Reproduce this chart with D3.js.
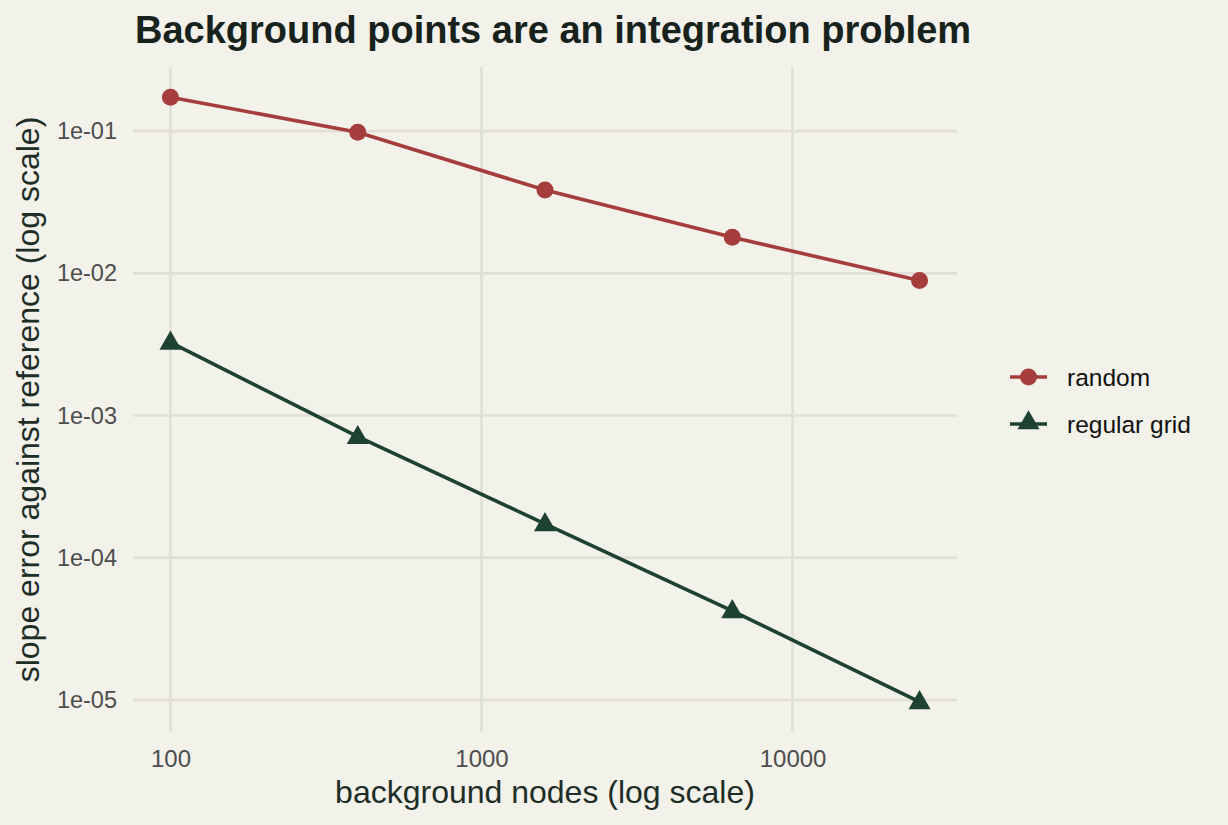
<!DOCTYPE html>
<html><head><meta charset="utf-8">
<script src="https://cdn.jsdelivr.net/npm/d3@7"></script>
<style>
body{margin:0;background:#F2F1EA;}
text{font-family:"Liberation Sans",Arial,Helvetica,sans-serif;}
</style></head>
<body>
<svg id="c" width="1228" height="825"></svg>
<script>
const nodes = [100, 400, 1600, 6400, 25600];
const randomErr = [0.173, 0.098, 0.0385, 0.0179, 0.0089];
const gridErr = [0.00327, 0.00071, 0.000173, 0.0000423, 0.0000097];
const xTicks = [100, 1000, 10000];
const yTicks = [1e-1, 1e-2, 1e-3, 1e-4, 1e-5];
const yTickLabels = ["1e-01", "1e-02", "1e-03", "1e-04", "1e-05"];
const seriesNames = ["random", "regular grid"];

const colors = {random: "#A63D3D", grid: "#1E4230"};
const svg = d3.select("#c");
svg.append("rect").attr("width",1228).attr("height",825).attr("fill","#F2F1EA");

const L=133, R=957, T=67, B=732;
const lx = [Math.log10(nodes[0]), Math.log10(nodes[nodes.length-1])];
const ex = (lx[1]-lx[0])*0.05;
const allY = randomErr.concat(gridErr);
const ly = [Math.log10(d3.min(allY)), Math.log10(d3.max(allY))];
const ey = (ly[1]-ly[0])*0.05;
const x = d3.scaleLog().domain([Math.pow(10,lx[0]-ex), Math.pow(10,lx[1]+ex)]).range([L,R]);
const y = d3.scaleLog().domain([Math.pow(10,ly[0]-ey), Math.pow(10,ly[1]+ey)]).range([B,T]);

const gridCol = "#E1E0D7";
// grid
svg.append("g").selectAll("line").data(xTicks).join("line")
  .attr("x1",d=>x(d)).attr("x2",d=>x(d)).attr("y1",T).attr("y2",B)
  .attr("stroke",gridCol).attr("stroke-width",2.7);
svg.append("g").selectAll("line").data(yTicks).join("line")
  .attr("y1",d=>y(d)).attr("y2",d=>y(d)).attr("x1",L).attr("x2",R)
  .attr("stroke",gridCol).attr("stroke-width",2.7);

// axes labels
const xAxis = svg.append("g").attr("transform",`translate(0,${B})`)
  .call(d3.axisBottom(x).tickValues(xTicks).tickFormat(d3.format("d")).tickSize(0).tickPadding(18));
xAxis.select(".domain").remove();
xAxis.selectAll("text").attr("font-size",24).attr("fill","#4D4D4D").attr("font-family","'Liberation Sans',Arial,sans-serif");

const yAxis = svg.append("g").attr("transform",`translate(${L},0)`)
  .call(d3.axisLeft(y).tickValues(yTicks).tickFormat((d,i)=>yTickLabels[i]).tickSize(0).tickPadding(16));
yAxis.select(".domain").remove();
yAxis.selectAll("text").attr("font-size",23.5).attr("fill","#4D4D4D").attr("font-family","'Liberation Sans',Arial,sans-serif");

// lines
const line = d3.line().x(d=>x(d[0])).y(d=>y(d[1]));
const rData = nodes.map((n,i)=>[n,randomErr[i]]);
const gData = nodes.map((n,i)=>[n,gridErr[i]]);
svg.append("path").datum(rData).attr("d",line).attr("fill","none").attr("stroke",colors.random).attr("stroke-width",3.6);
svg.append("path").datum(gData).attr("d",line).attr("fill","none").attr("stroke",colors.grid).attr("stroke-width",3.6);
svg.append("g").selectAll("circle").data(rData).join("circle")
  .attr("cx",d=>x(d[0])).attr("cy",d=>y(d[1])).attr("r",8.5).attr("fill",colors.random);
const tri = d3.symbol().type(d3.symbolTriangle).size(210);
svg.append("g").selectAll("path").data(gData).join("path")
  .attr("d",tri).attr("transform",d=>`translate(${x(d[0])},${y(d[1])+1})`).attr("fill",colors.grid);

// titles
svg.append("text").attr("x",135).attr("y",43).attr("font-size",38).attr("font-weight","bold")
  .attr("fill","#18221D").text("Background points are an integration problem");
svg.append("text").attr("x",(L+R)/2).attr("y",803).attr("text-anchor","middle").attr("font-size",32)
  .attr("fill","#1E2E26").text("background nodes (log scale)");
svg.append("text").attr("transform",`translate(39,${(T+B)/2}) rotate(-90)`).attr("text-anchor","middle")
  .attr("font-size",32).attr("fill","#1E2E26").text("slope error against reference (log scale)");

// legend
const leg = svg.append("g");
const lys = [377, 424];
seriesNames.forEach((s,i)=>{
  const c = i===0?colors.random:colors.grid;
  leg.append("line").attr("x1",1010).attr("x2",1047).attr("y1",lys[i]).attr("y2",lys[i]).attr("stroke",c).attr("stroke-width",3.6);
  if(i===0) leg.append("circle").attr("cx",1028.5).attr("cy",lys[i]).attr("r",8.5).attr("fill",c);
  else leg.append("path").attr("d",tri).attr("transform",`translate(1028.5,${lys[i]-1})`).attr("fill",c);
  leg.append("text").attr("x",1067).attr("y",lys[i]+9).attr("font-size",24.5).attr("fill","#111").text(s);
});
</script>
</body></html>
